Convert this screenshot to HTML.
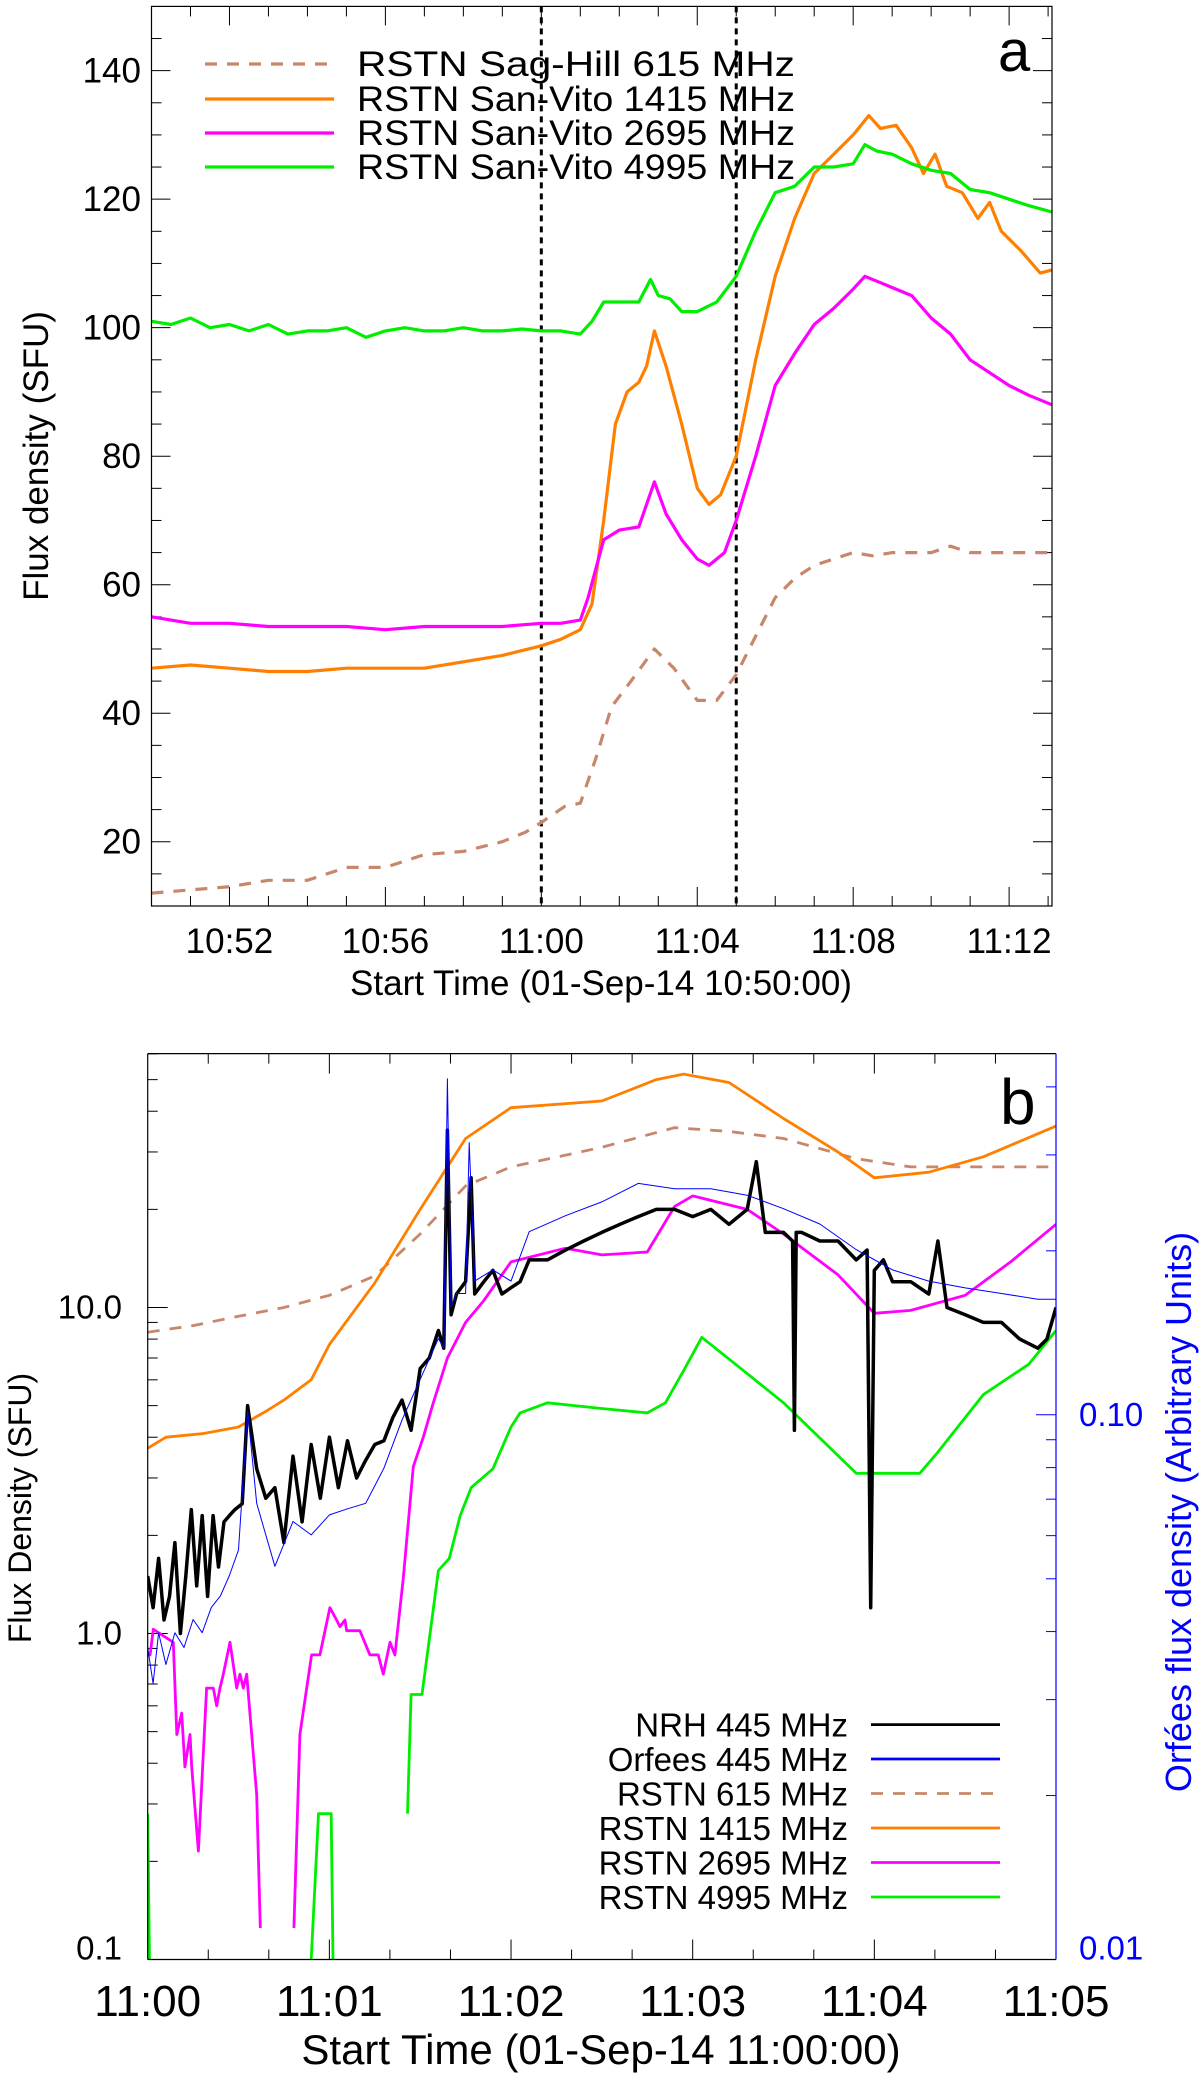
<!DOCTYPE html>
<html><head><meta charset="utf-8"><style>
body{margin:0;background:#fff;width:1200px;height:2077px;overflow:hidden}
svg{display:block}
text{font-family:"Liberation Sans",Arial,sans-serif}
</style></head><body>
<svg id="fig" width="1200" height="2077" viewBox="0 0 1200 2077" xmlns="http://www.w3.org/2000/svg">
<g id="pa"></g>
<g id="pb"></g>
</svg>
<script>
// ---------- Panel a data (minutes since 10:50) ----------
const aGreenT=[0,0.5,1,1.5,2,2.5,3,3.5,4,4.5,5,5.5,6,6.5,7,7.5,8,8.5,9,9.5,10,10.5,11,11.3,11.6,12,12.5,12.8,13,13.3,13.6,14,14.5,15,15.5,16,16.5,17,17.5,18,18.3,18.6,19,19.5,20,20.5,21,21.5,22,22.5,23.1];
const aGreenV=[101,100.5,101.5,100,100.5,99.5,100.5,99,99.5,99.5,100,98.5,99.5,100,99.5,99.5,100,99.5,99.5,99.8,99.5,99.5,99,101,104,104,104,107.5,105,104.5,102.5,102.5,104,108,115,121,122,125,125,125.5,128.5,127.5,127,125.5,124.5,124,121.5,121,120,119,118];
const aOrangeT=[0,1,2,3,4,5,6,7,8,9,10,10.5,11,11.3,11.6,11.9,12.2,12.5,12.7,12.9,13.2,13.6,14,14.3,14.6,15,15.5,16,16.5,17,17.5,18,18.4,18.7,19.1,19.5,19.8,20.1,20.4,20.8,21.2,21.5,21.8,22.3,22.8,23.1];
const aOrangeV=[47,47.5,47,46.5,46.5,47,47,47,48,49,50.5,51.5,53,57,70,85,90,91.5,94,99.5,94,85,75,72.5,74,80,95,108,117,124,127,130,133,131,131.5,128,124,127,122,121,117,119.5,115,112,108.5,109];
const aMagT=[0,1,2,3,4,5,6,7,8,9,10,10.5,11,11.2,11.6,12,12.5,12.9,13.2,13.6,14,14.3,14.7,15,15.5,16,16.5,17,17.5,18,18.3,18.7,19.5,20,20.5,21,21.5,22,22.5,23.1];
const aMagV=[55,54,54,53.5,53.5,53.5,53,53.5,53.5,53.5,54,54,54.5,58,67,68.5,69,76,71,67,64,63,65,70,80,91,96,100.5,103,106,108,107,105,101.5,99,95,93,91,89.5,88];
const aBrownT=[0,1,2,3,4,5,6,7,8,9,9.6,10,10.6,11,11.4,11.8,12.3,12.9,13.4,14,14.5,15,15.5,16,16.5,17,18,18.5,19,20,20.5,21,23.1];
const aBrownV=[12,12.5,13,14,14,16,16,18,18.5,20,21.5,23,25.5,26,33,41,45,50,47,42,42,46,52,58,61,63,65,64.5,65,65,66,65,65];
const aYTicks=[20,40,60,80,100,120,140];
const aXTicks=[2,6,10,14,18,22];
const aXLabels=["10:52","10:56","11:00","11:04","11:08","11:12"];
const aVLines=[10,15];
// ---------- Panel b data (minutes since 11:00) ----------
const bBlackT=[0,0.03,0.06,0.09,0.12,0.15,0.18,0.21,0.24,0.27,0.3,0.33,0.36,0.39,0.42,0.45,0.48,0.52,0.55,0.6,0.65,0.7,0.75,0.8,0.85,0.9,0.95,1.0,1.05,1.1,1.15,1.2,1.25,1.3,1.35,1.4,1.45,1.5,1.55,1.6,1.63,1.65,1.67,1.7,1.75,1.78,1.8,1.85,1.9,1.95,2.0,2.05,2.1,2.2,2.3,2.4,2.5,2.6,2.7,2.8,2.9,3.0,3.1,3.2,3.3,3.35,3.4,3.5,3.55,3.56,3.57,3.6,3.7,3.8,3.9,3.96,3.98,4.0,4.05,4.1,4.2,4.3,4.35,4.4,4.5,4.6,4.7,4.8,4.9,4.95,5.0];
const bBlackV=[1.5,1.2,1.7,1.1,1.3,1.9,1.0,1.5,2.4,1.4,2.3,1.3,2.3,1.6,2.2,2.3,2.4,2.5,5.0,3.2,2.6,2.8,1.9,3.5,2.2,3.8,2.6,4.0,2.8,3.9,3.0,3.4,3.8,3.9,4.6,5.2,4.2,6.5,7.0,8.5,7.5,35,9.5,11,12,25,11,12,13,11,11.5,12,14,14,15,16,17,18,19,20,20,19,20,18,20,28,17,17,16,4.2,17,17,16,16,14,15,1.2,13,14,12,12,11,16,10,9.5,9,9,8,7.5,8,10];
const bBlueT=[0,0.03,0.06,0.1,0.15,0.2,0.25,0.3,0.35,0.4,0.45,0.5,0.55,0.6,0.65,0.7,0.8,0.9,1.0,1.1,1.2,1.3,1.4,1.5,1.6,1.63,1.65,1.67,1.7,1.75,1.77,1.8,1.9,2.0,2.1,2.3,2.5,2.7,2.9,3.1,3.3,3.5,3.7,3.9,4.1,4.3,4.5,4.7,4.9,5.0];
const bBlueV=[0.0374,0.0321,0.0398,0.0348,0.0398,0.0374,0.0421,0.0398,0.0443,0.0465,0.0507,0.0565,0.1017,0.0688,0.0602,0.0527,0.0637,0.0602,0.0655,0.0672,0.0688,0.0798,0.0978,0.1162,0.138,0.1327,0.414,0.1577,0.167,0.167,0.316,0.176,0.1845,0.176,0.2168,0.232,0.246,0.266,0.26,0.26,0.253,0.239,0.224,0.201,0.1845,0.176,0.171,0.167,0.163,0.163];
const bBrownT=[0,0.25,0.5,0.75,1.0,1.25,1.5,1.75,2.0,2.5,2.9,3.2,3.5,3.9,4.2,4.5,5.0];
const bBrownV=[8.4,8.8,9.4,10,10.9,12.5,16.8,23.6,27,31,35.6,34.7,33,28.6,27,27,27];
const bOrangeT=[0,0.1,0.3,0.5,0.65,0.75,0.9,1.0,1.25,1.5,1.75,2.0,2.5,2.8,2.95,3.2,3.5,3.8,4.0,4.3,4.6,5.0];
const bOrangeV=[3.7,4.0,4.1,4.3,4.8,5.2,6.0,7.7,11.9,20,33,41,43,50,52,49,38,30,25,26,29,36];
const bMagT=[0,0.013,0.031,0.141,0.16,0.187,0.205,0.233,0.242,0.279,0.324,0.361,0.38,0.398,0.416,0.453,0.49,0.508,0.526,0.545,0.6,0.62,0.7,0.805,0.838,0.875,0.902,0.948,1.003,1.04,1.058,1.086,1.095,1.168,1.223,1.269,1.297,1.334,1.361,1.407,1.462,1.517,1.572,1.65,1.75,1.85,2.0,2.3,2.5,2.75,2.9,3.0,3.3,3.5,3.8,4.0,4.2,4.5,4.75,5.0];
const bMagV=[0.86,0.86,1.03,0.94,0.49,0.57,0.39,0.49,0.39,0.215,0.68,0.68,0.6,0.68,0.75,0.94,0.68,0.75,0.68,0.75,0.32,0.125,null,0.125,0.49,0.68,0.86,0.86,1.2,1.1,1.05,1.1,1.02,1.02,0.86,0.86,0.75,0.94,0.86,1.48,3.25,4.0,5.1,7.0,9.0,10.5,13.8,15.2,14.5,14.8,20.4,22,20,16.8,12.6,9.6,9.8,10.9,13.8,18];
const bGreenT=[0,0.01,0.02,0.9,0.94,1.01,1.02,1.1,1.4,1.43,1.45,1.51,1.6,1.66,1.72,1.78,1.9,2.0,2.05,2.2,2.5,2.75,2.85,2.95,3.05,3.25,3.5,3.9,4.25,4.35,4.6,4.85,5.0];
const bGreenV=[0.28,0.1,null,0.1,0.28,0.28,0.1,null,null,0.28,0.65,0.65,1.56,1.7,2.3,2.8,3.2,4.3,4.75,5.1,4.9,4.75,5.1,6.4,8.1,6.6,5.1,3.1,3.1,3.6,5.4,6.7,8.5];
const bYTicks=[0.1,1,10];
const bYLabels=["0.1","1.0","10.0"];
const bRTicks=[0.01,0.1];
const bRLabels=["0.01","0.10"];
const bXTicks=[0,1,2,3,4,5];
const bXLabels=["11:00","11:01","11:02","11:03","11:04","11:05"];

const NS="http://www.w3.org/2000/svg";
function mk(parent,tag,attrs){const e=document.createElementNS(NS,tag);for(const k in attrs)e.setAttribute(k,attrs[k]);parent.appendChild(e);return e;}
function txt(parent,s,attrs){const e=mk(parent,'text',attrs);e.textContent=s;return e;}
function pathFrom(T,V,fx,fy){let d='',pen=false;for(let i=0;i<T.length;i++){if(V[i]===null){pen=false;continue;}d+=(pen?'L':'M')+fx(T[i]).toFixed(1)+','+fy(V[i]).toFixed(1);pen=true;}return d;}

// ===== Panel a =====
const pa=document.getElementById('pa');
const aL=151.5,aR=1052,aT=6.4,aB=906;
const xA=t=>aL+t*(aR-aL)/23.1;
const yA=v=>aB-(v-10)*(aB-aT)/140;
let e;
for(let m=1;m<=23;m++){const maj=(m%4===2);const len=maj?19:10;
 e=mk(pa,'line',{x1:xA(m),x2:xA(m),y1:aB,y2:aB-len,stroke:'#000','stroke-width':1});
 
 e=mk(pa,'line',{x1:xA(m),x2:xA(m),y1:aT,y2:aT+len,stroke:'#000','stroke-width':1});
 }
for(let v=15;v<150;v+=5){const maj=(v%20===0);const len=maj?19:10;
 e=mk(pa,'line',{x1:aL,x2:aL+len,y1:yA(v),y2:yA(v),stroke:'#000','stroke-width':1});
 
 e=mk(pa,'line',{x1:aR,x2:aR-len,y1:yA(v),y2:yA(v),stroke:'#000','stroke-width':1});
 }
aYTicks.forEach(v=>{e=txt(pa,String(v),{x:141,y:yA(v)+12,'font-size':35,'text-anchor':'end'});
 });
aXTicks.forEach((t,i)=>{e=txt(pa,aXLabels[i],{x:xA(t),y:953,'font-size':35,'text-anchor':'middle'});
 });
e=txt(pa,'Start Time (01-Sep-14 10:50:00)',{x:601,y:995,'font-size':35,'text-anchor':'middle'});

e=txt(pa,'Flux density (SFU)',{x:0,y:0,'font-size':35,'text-anchor':'middle',transform:'translate(48,456) rotate(-90)'});

aVLines.forEach(t=>{e=mk(pa,'line',{x1:xA(t),x2:xA(t),y1:aT,y2:aB,stroke:'#000','stroke-width':3,'stroke-dasharray':'6,5'});
 });
const aSeries=[[aBrownT,aBrownV,'#c8876a','12,10','series-615'],[aOrangeT,aOrangeV,'#ff8000',null,'series-1415'],[aMagT,aMagV,'#ff00ff',null,'series-2695'],[aGreenT,aGreenV,'#00ee00',null,'series-4995']];
aSeries.forEach(s=>{const at={d:pathFrom(s[0],s[1],xA,yA),fill:'none',stroke:s[2],'stroke-width':3.2,'stroke-linejoin':'round'};if(s[3])at['stroke-dasharray']=s[3];
 e=mk(pa,'path',at);});
e=mk(pa,'rect',{x:aL,y:aT,width:aR-aL,height:aB-aT,fill:'none',stroke:'#000','stroke-width':1.2});

const aLeg=[['RSTN Sag-Hill 615 MHz','#c8876a','12,10',64],['RSTN San-Vito 1415 MHz','#ff8000',null,99],['RSTN San-Vito 2695 MHz','#ff00ff',null,133],['RSTN San-Vito 4995 MHz','#00ee00',null,167]];
aLeg.forEach(l=>{const g=mk(pa,'g',{});
 const at={x1:205,x2:334,y1:l[3],y2:l[3],stroke:l[1],'stroke-width':3.2};if(l[2])at['stroke-dasharray']=l[2];mk(g,'line',at);
 txt(g,l[0],{x:357,y:l[3]+12,'font-size':35,textLength:438,lengthAdjust:'spacingAndGlyphs'});});
e=txt(pa,'a',{x:998,y:71,'font-size':58});

// ===== Panel b =====
const pb=document.getElementById('pb');
const bL=147.7,bR=1056,bT=1053.6,bB=1959.5;
const xB=t=>bL+t*(bR-bL)/5;
const yB=v=>bB-(Math.log10(v)+1)*326;
const yR=v=>bB-(Math.log10(v)+2)*544.7;
for(let k=1;k<15;k++){const t=k/3;const maj=(k%3===0);const len=maj?20:10;
 e=mk(pb,'line',{x1:xB(t),x2:xB(t),y1:bB,y2:bB-len,stroke:'#000','stroke-width':1});
 e=mk(pb,'line',{x1:xB(t),x2:xB(t),y1:bT,y2:bT+len,stroke:'#000','stroke-width':1});}
[0.1,1,10].forEach(d=>{for(let m=1;m<10;m++){const v=d*m;if(v>60)break;const len=m===1?20:10;
 e=mk(pb,'line',{x1:bL,x2:bL+len,y1:yB(v),y2:yB(v),stroke:'#000','stroke-width':1});}});
[0.01,0.1].forEach(d=>{for(let m=1;m<10;m++){const v=d*m;if(v>0.46)break;const len=m===1?20:10;
 e=mk(pb,'line',{x1:bR,x2:bR-len,y1:yR(v),y2:yR(v),stroke:'#0000ff','stroke-width':1});}});
bYTicks.forEach((v,i)=>{e=txt(pb,bYLabels[i],{x:122,y:Math.min(yB(v)+11,bB),'font-size':33,'text-anchor':'end'});});
bRTicks.forEach((v,i)=>{e=txt(pb,bRLabels[i],{x:1079,y:Math.min(yR(v)+11,bB),'font-size':33,fill:'#0000ff'});});
bXTicks.forEach((t,i)=>{e=txt(pb,bXLabels[i],{x:xB(t),y:2016,'font-size':44,'text-anchor':'middle'});});
e=txt(pb,'Start Time (01-Sep-14 11:00:00)',{x:601,y:2064,'font-size':42,'text-anchor':'middle'});
e=txt(pb,'Flux Density (SFU)',{x:0,y:0,'font-size':32,'text-anchor':'middle',transform:'translate(31,1508) rotate(-90)'});
e=txt(pb,'Orfées flux density (Arbitrary Units)',{x:0,y:0,'font-size':36,'text-anchor':'middle',fill:'#0000ff',transform:'translate(1191,1512) rotate(-90)'});
const cp=mk(pb,'clipPath',{id:'clipb'});mk(cp,'rect',{x:bL,y:bT,width:bR-bL,height:bB-bT});
const bg=mk(pb,'g',{'clip-path':'url(#clipb)'});
const bSeries=[[bBrownT,bBrownV,yB,'#c8876a','12,10',2.8,'series-615'],[bOrangeT,bOrangeV,yB,'#ff8000',null,2.8,'series-1415'],[bMagT,bMagV,yB,'#ff00ff',null,2.8,'series-2695'],[bGreenT,bGreenV,yB,'#00ee00',null,2.8,'series-4995'],[bBlackT,bBlackV,yB,'#000',null,3.5,'series-nrh-445'],[bBlueT,bBlueV,yR,'#0000ff',null,1,'series-orfees-445']];
bSeries.forEach(s=>{const at={d:pathFrom(s[0],s[1],xB,s[2]),fill:'none',stroke:s[3],'stroke-width':s[5],'stroke-linejoin':'round'};if(s[4])at['stroke-dasharray']=s[4];
 e=mk(bg,'path',at);});
e=mk(pb,'line',{x1:bL,x2:bL,y1:bT,y2:bB,stroke:'#000','stroke-width':1.2});
e=mk(pb,'line',{x1:bL,x2:bR,y1:bT,y2:bT,stroke:'#000','stroke-width':1.2});
e=mk(pb,'line',{x1:bL,x2:bR,y1:bB,y2:bB,stroke:'#000','stroke-width':1.2});
e=mk(pb,'line',{x1:bR,x2:bR,y1:bT,y2:bB,stroke:'#0000ff','stroke-width':1.2});
const bLeg=[['NRH 445 MHz','#000',null,1724.6],['Orfees 445 MHz','#0000ff',null,1759],['RSTN 615 MHz','#c8876a','12,10',1793.5],['RSTN 1415 MHz','#ff8000',null,1828],['RSTN 2695 MHz','#ff00ff',null,1862.5],['RSTN 4995 MHz','#00ee00',null,1897]];
bLeg.forEach(l=>{const g=mk(pb,'g',{});
 const at={x1:871,x2:1000,y1:l[3],y2:l[3],stroke:l[1],'stroke-width':2.8};if(l[2])at['stroke-dasharray']=l[2];mk(g,'line',at);
 txt(g,l[0],{x:848,y:l[3]+12,'font-size':33,'text-anchor':'end'});});
e=txt(pb,'b',{x:1000,y:1124,'font-size':64});
</script>
</body></html>
